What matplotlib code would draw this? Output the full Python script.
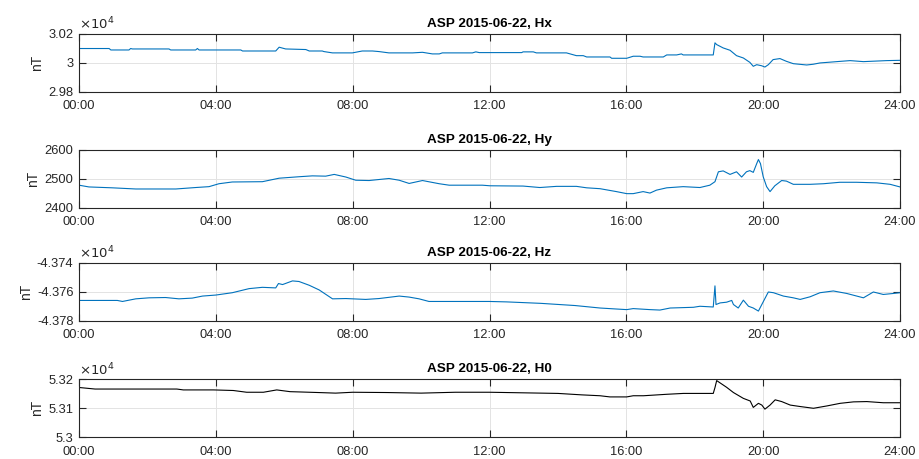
import matplotlib
matplotlib.use('Agg')
import matplotlib.pyplot as plt
from matplotlib.ticker import FuncFormatter

plt.rcParams['font.family'] = ['Liberation Sans', 'DejaVu Sans']

STATION = 'ASP'
DAY = '2015-06-22'

# magnetometer samples: hours since midnight, field in nT
hx_t = [0.0, 0.88, 0.93, 1.46, 1.51, 1.56, 2.63, 2.68, 3.41, 3.46, 3.51, 4.73, 4.78,
        5.75, 5.85, 6.04, 6.63, 6.73, 7.11, 7.16, 7.41, 7.99, 8.28, 8.58, 8.77, 9.06,
        9.75, 10.04, 10.33, 10.53, 10.62, 11.50, 11.60, 11.70, 12.01, 12.94, 12.98,
        13.28, 13.37, 14.25, 14.54, 14.74, 14.84, 15.52, 15.57, 16.01, 16.20, 16.40,
        16.49, 17.08, 17.18, 17.47, 17.61, 17.66, 18.54, 18.59, 18.64, 18.83, 19.03,
        19.22, 19.42, 19.61, 19.71, 19.81, 19.95, 20.05, 20.15, 20.29, 20.49, 20.68,
        20.88, 21.27, 21.46, 21.66, 22.15, 22.54, 22.93, 23.61, 24.0]
hx_v = [30097, 30097, 30087, 30087, 30097, 30094, 30094, 30087, 30087, 30097, 30087,
        30087, 30080, 30080, 30106, 30094, 30090, 30080, 30080, 30076, 30067, 30067,
        30080, 30080, 30076, 30067, 30067, 30071, 30060, 30060, 30067, 30067, 30074,
        30069, 30069, 30069, 30074, 30074, 30067, 30067, 30048, 30048, 30039, 30039,
        30030, 30030, 30044, 30044, 30039, 30039, 30053, 30053, 30060, 30053, 30053,
        30136, 30124, 30101, 30085, 30048, 30032, 30002, 29975, 29986, 29979, 29970,
        29986, 30021, 30028, 30009, 29993, 29984, 29989, 29998, 30007, 30014, 30007,
        30014, 30016]

hy_t = [0.0, 0.29, 0.97, 1.66, 2.83, 3.41, 3.80, 4.09, 4.48, 5.36, 5.85, 6.43, 6.82,
        7.21, 7.46, 7.80, 8.09, 8.48, 9.06, 9.36, 9.65, 10.04, 10.53, 10.82, 11.79,
        12.01, 12.98, 13.47, 13.96, 14.54, 14.84, 15.23, 15.71, 16.01, 16.20, 16.49,
        16.69, 16.88, 17.18, 17.66, 18.15, 18.44, 18.59, 18.69, 18.83, 19.03, 19.22,
        19.37, 19.51, 19.61, 19.71, 19.81, 19.86, 19.92, 20.00, 20.10, 20.20, 20.34,
        20.54, 20.68, 20.88, 21.37, 21.76, 22.24, 22.73, 23.32, 23.71, 24.0]
hy_v = [2478, 2472, 2469, 2465, 2465, 2470, 2473, 2483, 2489, 2490, 2502, 2507, 2510,
        2509, 2515, 2506, 2495, 2494, 2501, 2495, 2484, 2494, 2483, 2478, 2478,
        2476, 2475, 2470, 2474, 2474, 2469, 2466, 2456, 2449, 2449, 2456,
        2451, 2461, 2469, 2473, 2470, 2478, 2490, 2524, 2527, 2515, 2524,
        2506, 2524, 2528, 2522, 2552, 2566, 2552, 2507, 2473, 2456, 2476,
        2494, 2492, 2481, 2481, 2483, 2488, 2488, 2486, 2481, 2472]

hz_t = [0.0, 1.12, 1.27, 1.66, 2.05, 2.53, 2.92, 3.31, 3.61, 4.00, 4.48, 4.97, 5.36,
        5.75, 5.83, 5.95, 6.24, 6.43, 6.73, 7.02, 7.41, 7.80, 8.38, 8.77, 9.36, 9.65,
        9.94, 10.23, 11.99, 12.5, 13.5, 14.5, 15.23, 15.72, 16.01, 16.20, 16.69, 16.98,
        17.28, 17.96, 18.15, 18.54, 18.59, 18.62, 18.74, 18.93, 19.08, 19.13, 19.27,
        19.42, 19.57, 19.71, 19.86, 20.01, 20.15, 20.30, 20.59, 20.88, 21.08, 21.37,
        21.66, 22.05, 22.44, 22.93, 23.22, 23.51, 23.81, 24.0]
hz_v = [-43766.0, -43766.0, -43766.7, -43764.9, -43764.2, -43764.0, -43764.9, -43764.4,
        -43763.0, -43762.3, -43760.7, -43757.9, -43757.0, -43757.4, -43754.4, -43755.1,
        -43752.6, -43753.0, -43755.6, -43758.8, -43764.9, -43764.7, -43765.3, -43764.7,
        -43763.0, -43763.7, -43764.9, -43766.7, -43766.7, -43767.0, -43768.0, -43769.5,
        -43771.2, -43771.9, -43772.3, -43771.6, -43772.3, -43772.6, -43771.2, -43770.7,
        -43770.0, -43770.5, -43756.0, -43768.8, -43767.7, -43767.2, -43766.0, -43768.8,
        -43771.2, -43765.8, -43770.0, -43771.2, -43773.3, -43766.5, -43760.2, -43760.7,
        -43763.0, -43764.2, -43765.3, -43763.5, -43760.7, -43759.5, -43761.2, -43764.2,
        -43760.2, -43761.9, -43761.2, -43760.7]

h0_t = [0.03, 0.47, 2.86, 3.05, 3.93, 4.51, 4.90, 5.39, 5.78, 6.17, 6.46, 7.0, 7.5,
        8.0, 9.0, 10.0, 11.0, 12.0, 13.0, 14.0, 14.7, 15.23, 15.52, 16.01, 16.20, 16.50,
        17.18, 17.67, 18.54, 18.59, 18.64, 18.93, 19.13, 19.42, 19.62, 19.71, 19.86,
        19.96, 20.05, 20.20, 20.35, 20.54, 20.79, 21.08, 21.47, 21.86, 22.25, 22.64,
        23.03, 23.51, 24.0]
h0_v = [53171, 53166, 53166, 53163, 53163, 53161, 53155, 53155, 53163, 53157, 53156,
        53154, 53152, 53155, 53154, 53152, 53155, 53155, 53153, 53151, 53146, 53143,
        53139, 53139, 53143, 53143, 53148, 53151, 53151, 53171, 53195, 53172, 53154,
        53134, 53125, 53103, 53117, 53111, 53097, 53111, 53129, 53123, 53111, 53106,
        53100, 53108, 53117, 53122, 53123, 53119, 53119]

hour_ticks = [0, 4, 8, 12, 16, 20, 24]
hour_labels = ['00:00', '04:00', '08:00', '12:00', '16:00', '20:00', '24:00']

panels = [
    ('Hx', hx_t, hx_v, [29800, 30000, 30200], True, '#0072BD'),
    ('Hy', hy_t, hy_v, [2400, 2500, 2600], False, '#0072BD'),
    ('Hz', hz_t, hz_v, [-43780, -43760, -43740], True, '#0072BD'),
    ('H0', h0_t, h0_v, [53000, 53100, 53200], True, 'black'),
]

fig = plt.figure(figsize=(9.2, 4.59), dpi=100)
bottoms = [0.800, 0.547, 0.301, 0.047]

for (name, t, v, yt, scaled, color), b in zip(panels, bottoms):
    ax = fig.add_axes([0.0859, b, 0.8924, 0.127])
    ax.plot(t, v, color=color, lw=0.8)
    ax.set_xlim(0, 24)
    ax.set_ylim(yt[0], yt[-1])
    ax.set_xticks(hour_ticks)
    ax.set_xticklabels(hour_labels)
    ax.set_yticks(yt)
    if scaled:
        ax.yaxis.set_major_formatter(FuncFormatter(lambda y, pos: f'{y / 1e4:g}'))
        ax.text(0.0, 1.02, r'$\times10^{4}$', transform=ax.transAxes,
                fontsize=9.5, color='#262626', ha='left', va='bottom')
    ax.grid(True, color='#e3e3e3', lw=0.7)
    ax.set_axisbelow(True)
    ax.tick_params(direction='in', length=5, width=0.8, top=True, right=True,
                   labelsize=9.3, colors='#262626')
    ax.tick_params(axis='x', pad=6)
    ax.tick_params(axis='y', pad=4)
    for sp in ax.spines.values():
        sp.set_color('#262626')
        sp.set_linewidth(0.8)
    ax.set_ylabel('nT', fontsize=10, color='#262626', labelpad=3)
    ax.set_title(f'{STATION} {DAY}, {name}', fontsize=9.7, fontweight='bold',
                 color='black', pad=5)

fig.savefig('out.png', dpi=100)
